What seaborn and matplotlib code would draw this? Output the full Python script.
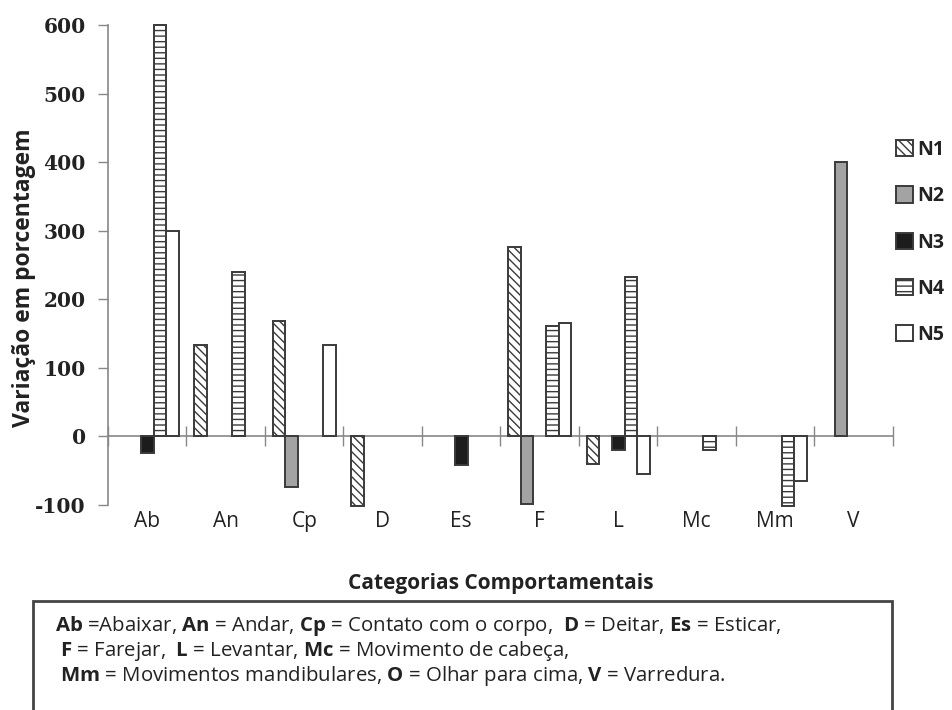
import numpy as np
import pandas as pd
import matplotlib
matplotlib.use("Agg")
import matplotlib.pyplot as plt
from matplotlib.patches import Rectangle
import seaborn as sns

categories = ["Ab", "An", "Cp", "D", "Es", "F", "L", "Mc", "Mm", "V"]
series = ["N1", "N2", "N3", "N4", "N5"]
n1 = [np.nan, 133, 168, -102, np.nan, 276, -40, np.nan, np.nan, np.nan]
n2 = [np.nan, np.nan, -74, np.nan, np.nan, -99, np.nan, np.nan, np.nan, 400]
n3 = [-24, np.nan, np.nan, np.nan, -42, np.nan, -20, np.nan, np.nan, np.nan]
n4 = [600, 240, np.nan, np.nan, np.nan, 161, 233, -20, -102, np.nan]
n5 = [300, np.nan, 133, np.nan, np.nan, 166, -55, np.nan, -65, np.nan]
y_ticks = [-100, 0, 100, 200, 300, 400, 500, 600]

rows = []
for s, vals in zip(series, [n1, n2, n3, n4, n5]):
    for c, v in zip(categories, vals):
        rows.append({"cat": c, "serie": s, "val": v})
df = pd.DataFrame(rows).dropna()

sns.set_theme(style="white")
plt.rcParams["font.family"] = ["Open Sans", "DejaVu Sans"]
plt.rcParams["mathtext.fontset"] = "custom"
plt.rcParams["mathtext.bf"] = "Open Sans:bold"
plt.rcParams["mathtext.rm"] = "Open Sans"
plt.rcParams["hatch.linewidth"] = 1.0

fig = plt.figure(figsize=(9.53, 7.10), dpi=100)
ax = fig.add_axes([108 / 953, 1 - 505 / 710, (893 - 108) / 953, (505 - 25) / 710])

sns.barplot(data=df, x="cat", y="val", hue="serie", order=categories,
            hue_order=series, width=0.8, errorbar=None, ax=ax, legend=False)

edge = "#3a3a3a"
styles = {
    "N1": dict(fc="white", hatch="\\\\\\\\"),
    "N2": dict(fc="#a3a3a3", hatch=None),
    "N3": dict(fc="#1c1c1c", hatch=None),
    "N4": dict(fc="white", hatch="---"),
    "N5": dict(fc="white", hatch=None),
}
for cont, s in zip(ax.containers, series):
    cont.set_label(s)
    for p in cont.patches:
        p.set_facecolor(styles[s]["fc"])
        p.set_edgecolor(edge)
        p.set_linewidth(1.4)
        p.set_clip_on(False)
        if styles[s]["hatch"]:
            p.set_hatch(styles[s]["hatch"])

ax.set_ylim(-100, 600)
ax.set_xlim(-0.5, 9.5)
ax.set_yticks(y_ticks)
ax.set_yticklabels([str(t) for t in y_ticks], fontfamily="DejaVu Serif",
                   fontweight="bold", fontsize=14.5, color="#222222")
ax.tick_params(axis="y", direction="out", length=7, width=1, color="#888888", pad=9, left=True)
ax.set_xticks(range(len(categories)))
ax.set_xticklabels(categories, fontsize=15, color="#222222")
ax.tick_params(axis="x", length=0, pad=4, bottom=True)

for sp in ["top", "right", "bottom"]:
    ax.spines[sp].set_visible(False)
ax.spines["left"].set_color("#888888")
ax.spines["left"].set_linewidth(1.2)

sec = ax.secondary_xaxis(100 / 700)
sec.set_xticks(np.arange(-0.5, 10.0, 1.0))
sec.set_xticklabels([])
sec.tick_params(direction="inout", length=14, width=1, color="#888888")
sec.spines["bottom"].set_color("#888888")
sec.spines["bottom"].set_linewidth(1.2)
ax.set_zorder(1)

ax.set_xlabel("Categorias Comportamentais", fontsize=15, fontweight="bold",
              color="#222222", labelpad=30)
ax.set_ylabel("Variação em porcentagem", fontsize=16.5, fontweight="bold",
              color="#222222")
ax.yaxis.set_label_coords((36 - 108) / 785, (505 - 278) / 480)

leg = ax.legend(handles=ax.containers, labels=series, loc="upper left",
                bbox_to_anchor=(896 / 953, 1 - 140 / 710), bbox_transform=fig.transFigure,
                frameon=False, fontsize=14, handlelength=0.9, handleheight=0.9,
                handletextpad=0.2, labelspacing=1.35, borderaxespad=0, borderpad=0)
for t in leg.get_texts():
    t.set_color("#222222")
    t.set_fontweight("bold")

box = Rectangle((33 / 953, -0.05), (892 - 33) / 953, (0.05 + 1 - 601 / 710),
                transform=fig.transFigure, fill=False, edgecolor="#444444", linewidth=2)
fig.patches.append(box)

lines = [
    r"$\bf{Ab}$ =Abaixar, $\bf{An}$ = Andar, $\bf{Cp}$ = Contato com o corpo,  $\bf{D}$ = Deitar, $\bf{Es}$ = Esticar,",
    r" $\bf{F}$ = Farejar,  $\bf{L}$ = Levantar, $\bf{Mc}$ = Movimento de cabeça,",
    r" $\bf{Mm}$ = Movimentos mandibulares, $\bf{O}$ = Olhar para cima, $\bf{V}$ = Varredura.",
]
for i, ln in enumerate(lines):
    fig.text(55 / 953, 1 - (626 + i * 25) / 710, ln, fontsize=14.7, color="#222222", va="center")

fig.savefig("out.png", dpi=100)
